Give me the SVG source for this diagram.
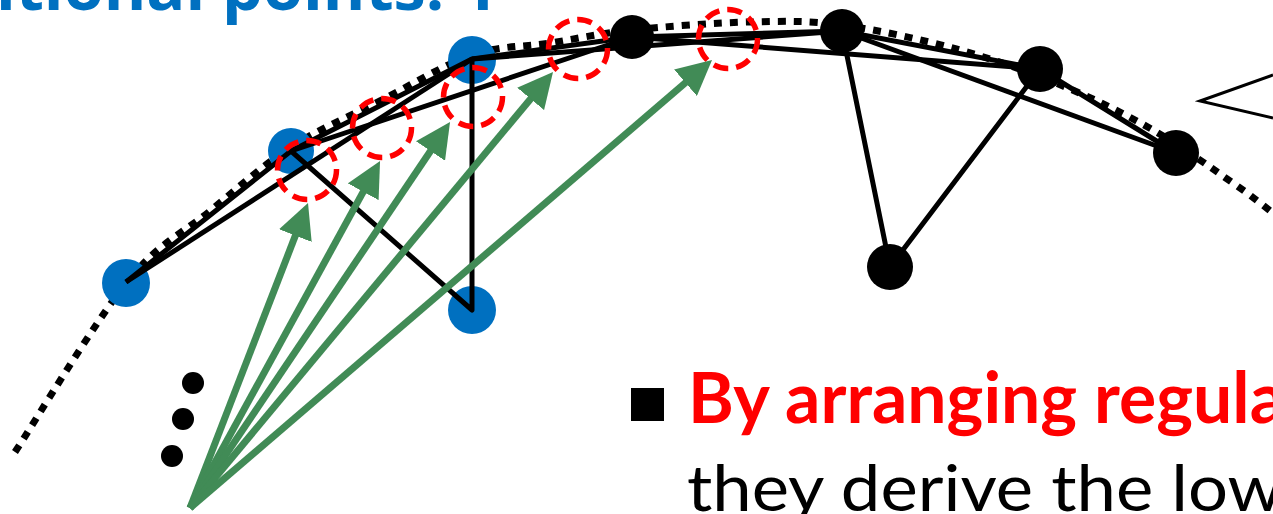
<svg xmlns="http://www.w3.org/2000/svg" width="1273" height="514" viewBox="0 0 1273 514">
<style>
.edge{stroke:#000;stroke-width:5;fill:none;stroke-linejoin:round}
.curve{stroke:#000;stroke-width:7;stroke-dasharray:8 8;fill:none}
.blue{fill:#0070C0}
.blk{fill:#000}
.mark{fill:none;stroke:#FF0000;stroke-width:5.5;stroke-dasharray:15 8}
.arrow{stroke:#418B56;stroke-width:7;fill:none;marker-end:url(#ah)}
.title{font-family:'Open Sans',sans-serif;font-weight:700;font-size:62px;fill:#0070C0}
.red{font-family:Lato,'Liberation Sans',sans-serif;font-weight:700;font-size:70px;fill:#FF0000}
.body{font-family:Lato,'Liberation Sans',sans-serif;font-weight:400;font-size:64px;fill:#000}
</style>
<defs>
<marker id="ah" viewBox="0 0 10 10" refX="2" refY="5" markerWidth="5" markerHeight="5" orient="auto" markerUnits="strokeWidth">
<path d="M0,0 L10,5 L0,10 z" fill="#418B56"/>
</marker>
</defs>
<g id="title"><text class="title" x="-4" y="9.5" textLength="502" lengthAdjust="spacingAndGlyphs">itional points: 1</text></g>
<g id="curve">
<path class="curve" d="M15,452 C33.7,423.7 94.5,322.2 127,282 C159.5,241.8 182.7,233.5 210,211 C237.3,188.5 262.7,165.3 291,147 C319.3,128.7 349.8,116.3 380,101 C410.2,85.7 443.7,64.7 472,55 C500.3,45.3 523.3,47.2 550,43 C576.7,38.8 598.7,33.5 632,30 C665.3,26.5 715,22.8 750,22 C785,21.2 807,20.3 842,25 C877,29.7 923.2,39.8 960,50 C996.8,60.2 1030.8,72.7 1063,86 C1095.2,99.3 1124.7,113.8 1153,130 C1181.3,146.2 1213,169.2 1233,183 C1253,196.8 1266.3,208 1273,213"/>
</g>
<g id="n1"><circle class="blue" cx="126" cy="283" r="24"/></g>
<g id="n2"><circle class="blue" cx="291" cy="151" r="23"/></g>
<g id="n3"><circle class="blue" cx="472" cy="60" r="24"/></g>
<g id="n4"><circle class="blue" cx="472" cy="310" r="24"/></g>
<g id="connectors">
<path class="edge" d="M126,282 L291,151 L472,59 L632,37 L842,31 L1040,69 L1176,153"/>
<path class="edge" d="M126,282 L472,59"/>
<path class="edge" d="M291,151 L632,37"/>
<path class="edge" d="M472,59 L842,31"/>
<path class="edge" d="M632,37 L1040,69"/>
<path class="edge" d="M842,31 L1176,153"/>
<path class="edge" d="M291,151 L472,310 L472,59"/>
<path class="edge" d="M842,31 L890,267 L1040,69"/>
<polyline points="1273,75 1200,101 1273,118" fill="none" stroke="#000" stroke-width="3"/>
</g>
<g id="a"><circle class="blk" cx="632" cy="37" r="22"/></g>
<g id="b"><circle class="blk" cx="842" cy="31" r="22"/></g>
<g id="c"><circle class="blk" cx="1040" cy="69" r="23"/></g>
<g id="d"><circle class="blk" cx="1176" cy="153" r="23"/></g>
<g id="e"><circle class="blk" cx="890" cy="267" r="23"/></g>
<g id="marks">
<circle class="mark" cx="307" cy="170" r="29.5"/>
<circle class="mark" cx="382" cy="128" r="29.5"/>
<circle class="mark" cx="473" cy="97" r="29.5"/>
<circle class="mark" cx="578" cy="49" r="29.5"/>
<circle class="mark" cx="728" cy="39" r="29.5"/>
</g>
<g id="arrows">
<line class="arrow" x1="190" y1="508" x2="297.9" y2="229.1"/>
<line class="arrow" x1="190" y1="508" x2="366.6" y2="185.6"/>
<line class="arrow" x1="190" y1="508" x2="434.4" y2="145.2"/>
<line class="arrow" x1="190" y1="508" x2="535.1" y2="93.5"/>
<line class="arrow" x1="190" y1="508" x2="690.8" y2="78.2"/>
</g>
<g id="ellipsis">
<circle class="blk" cx="193" cy="383" r="11"/>
<circle class="blk" cx="183" cy="419" r="11"/>
<circle class="blk" cx="172" cy="456" r="11"/>
</g>
<g id="bullet">
<rect x="631" y="388" width="33" height="33" fill="#000"/>
<text class="red" x="688" y="423" textLength="597" lengthAdjust="spacingAndGlyphs">By arranging regula</text>
<text class="body" x="687" y="511" textLength="596" lengthAdjust="spacingAndGlyphs">they derive the low</text>
</g>
</svg>
